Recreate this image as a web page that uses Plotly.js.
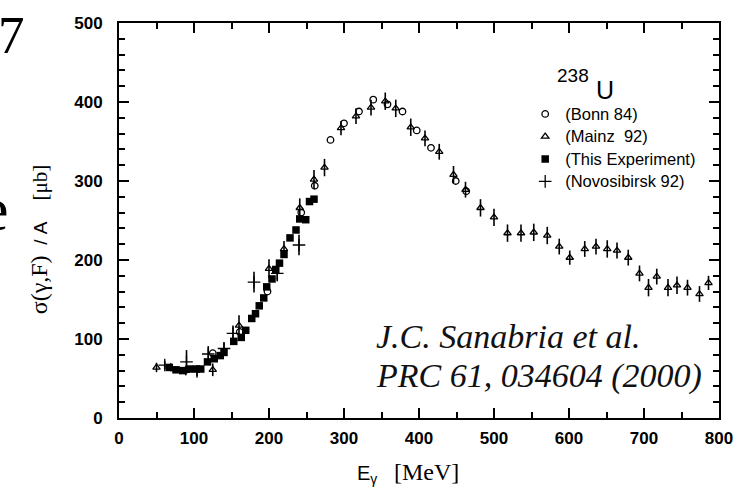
<!DOCTYPE html>
<html>
<head>
<meta charset="utf-8">
<script src="https://cdn.plot.ly/plotly-3.0.1.min.js"></script>
<style>html,body{margin:0;padding:0;background:#fff;}#chart{width:744px;height:488px;}</style>
</head>
<body>
<div id="chart"></div>
<script>
// Bonn 84 (open circles)
const bonnE = [125, 161, 198, 243, 261, 282, 300, 320, 339, 358, 378, 397, 416, 449, 463];
const bonnS = [82, 109, 160, 260, 294, 352, 373, 388, 403, 397, 388, 364, 342, 300, 287];
// Mainz 92 (open triangles)
const mainzE = [50, 69, 89, 125, 160, 200, 220, 241, 260, 274, 296, 316, 336, 355, 369, 389, 408, 427, 446, 462, 482, 500, 518, 536, 553, 571, 587, 601, 621, 636, 651, 664, 679, 694, 706, 717, 732, 744, 758, 774, 786];
const mainzS = [64, 64, 60, 61, 117, 189, 214, 266, 302, 317, 367, 382, 393, 401, 392, 368, 354, 337, 308, 289, 266, 254, 234, 234, 235, 231, 217, 203, 214, 217, 214, 212, 203, 183, 165, 179, 165, 168, 165, 157, 171];
const mainzErr = [6, 5, 6, 8, 13, 12, 10, 12, 12, 11, 9, 10, 10, 11, 11, 11, 10, 10, 11, 10, 11, 11, 11, 11, 11, 11, 10, 9, 10, 10, 11, 10, 10, 10, 11, 10, 11, 11, 10, 10, 9];
// This Experiment (filled squares)
const expE = [67, 76, 85, 94, 103, 109, 118, 127, 135, 140, 153, 163, 169, 177, 182, 187, 193, 197, 204, 209, 214, 220, 228, 236, 241, 249, 254, 260];
const expS = [64, 61, 60, 62, 62, 62, 71, 75, 79, 83, 97, 102, 111, 126, 132, 142, 152, 166, 176, 188, 196, 207, 228, 238, 252, 251, 274, 277];
// Novosibirsk 92 (plus)
const novoE = [61, 90, 104, 119, 140, 152, 180, 211, 240];
const novoS = [67, 71, 59, 81, 88, 107, 172, 183, 219];
const novoErr = [5, 15, 6, 10, 8, 10, 13, 10, 13];

const legendNames = ['(Bonn 84)', '(Mainz  92)', '(This Experiment)', '(Novosibirsk 92)'];

const SANS = 'Liberation Sans, Arial, Helvetica, sans-serif';
const SERIF = 'Liberation Serif, Times New Roman, Times, serif';

const errStyle = {type: 'data', visible: true, color: '#000', thickness: 1.6, width: 0};
const bigName = s => '<span style="font-size:16.5px">' + s + '</span>';

const traces = [
  {x: bonnE, y: bonnS, name: bigName(legendNames[0]), mode: 'markers', type: 'scatter',
   marker: {symbol: 'circle-open', size: 6.5, color: '#000', line: {width: 1.3, color: '#000'}}},
  {x: mainzE, y: mainzS, name: bigName(legendNames[1]), mode: 'markers', type: 'scatter',
   error_y: Object.assign({array: mainzErr}, errStyle),
   marker: {symbol: 'triangle-up-open', size: 6.5, color: '#000', line: {width: 1.3, color: '#000'}}},
  {x: expE, y: expS, name: bigName(legendNames[2]), mode: 'markers', type: 'scatter',
   marker: {symbol: 'square', size: 7.5, color: '#000'}},
  {x: novoE, y: novoS, name: bigName(legendNames[3]), mode: 'markers', type: 'scatter',
   error_y: Object.assign({array: novoErr}, errStyle),
   marker: {symbol: 'cross-thin-open', size: 9, color: '#000', line: {width: 1.3, color: '#000'}}}
];

const axisCommon = {
  ticks: 'inside', ticklen: 10, tickwidth: 2, tickcolor: '#000',
  showline: true, linewidth: 2, linecolor: '#000', mirror: 'allticks',
  showgrid: false, zeroline: false,
  tickfont: {family: SANS, size: 17, color: '#000', weight: 'bold'}
};

function ann(x, y, text, font, extra) {
  return Object.assign({xref: 'paper', yref: 'paper', x: x, y: y, text: text, font: font,
    showarrow: false, xanchor: 'center', yanchor: 'middle'}, extra || {});
}

const serifSpan = (s, size) => '<span style="font-family:Liberation Serif, Times New Roman, serif;font-size:' + size + 'px">' + s + '</span>';

const layout = {
  width: 744, height: 488,
  margin: {l: 119, r: 25, t: 23, b: 70, pad: 0},
  paper_bgcolor: '#fff', plot_bgcolor: '#fff',
  showlegend: true,
  legend: {x: 0.677, y: 0.811, xanchor: 'left', yanchor: 'top',
           bgcolor: 'rgba(0,0,0,0)', font: {family: SANS, size: 15, color: '#000'},
           itemwidth: 30, tracegroupgap: 0},
  xaxis: Object.assign({}, axisCommon, {range: [0, 800], tick0: 0, dtick: 100,
    ticklabelstandoff: 4,
    minor: {dtick: 50, ticklen: 6, tickwidth: 2, tickcolor: '#000', ticks: 'inside', showgrid: false}}),
  yaxis: Object.assign({}, axisCommon, {range: [0, 500], tick0: 0, dtick: 100,
    ticklabelstandoff: 11,
    minor: {dtick: 20, ticklen: 6, tickwidth: 2, tickcolor: '#000', ticks: 'inside', showgrid: false}}),
  annotations: [
    // y-axis title (rotated)
    ann((39 - 119) / 600, (417.7 - 239) / 395,
        serifSpan('σ(γ,F)', 24) + '&nbsp;&nbsp;/&nbsp;A&nbsp;&nbsp;&nbsp;&nbsp;' + serifSpan('[μb]', 21),
        {family: SANS, size: 19, color: '#000'}, {textangle: -90}),
    // x-axis title
    ann((367 - 119) / 600, (417.7 - 474) / 395, 'E<sub>γ</sub>', {family: SANS, size: 20, color: '#000'}),
    ann((426 - 119) / 600, (417.7 - 472) / 395, '[MeV]', {family: SERIF, size: 24, color: '#000'}),
    // legend header
    ann((555 - 119) / 600, (417.7 - 75.5) / 395, '238', {family: SANS, size: 19, color: '#000'}, {xanchor: 'left'}),
    ann((594 - 119) / 600, (417.7 - 90) / 395, 'U', {family: SANS, size: 25, color: '#000'}, {xanchor: 'left'}),
    // citation
    ann((374 - 119) / 600, (417.7 - 336) / 395, 'J.C. Sanabria et al.', {family: SERIF, size: 34, color: '#111', style: 'italic'}, {xanchor: 'left'}),
    ann((374 - 119) / 600, (417.7 - 376) / 395, 'PRC 61, 034604 (2000)', {family: SERIF, size: 34, color: '#111', style: 'italic'}, {xanchor: 'left'}),
    // fragments of neighbouring text at the left edge
    ann((11 - 119) / 600, (417.7 - 35) / 395, '7', {family: SERIF, size: 53, color: '#000'}),
    ann((-5 - 119) / 600, (417.7 - 209) / 395, 'e', {family: SERIF, size: 62, color: '#000'})
  ]
};

Plotly.newPlot('chart', traces, layout, {staticPlot: true, displayModeBar: false});
</script>
</body>
</html>
